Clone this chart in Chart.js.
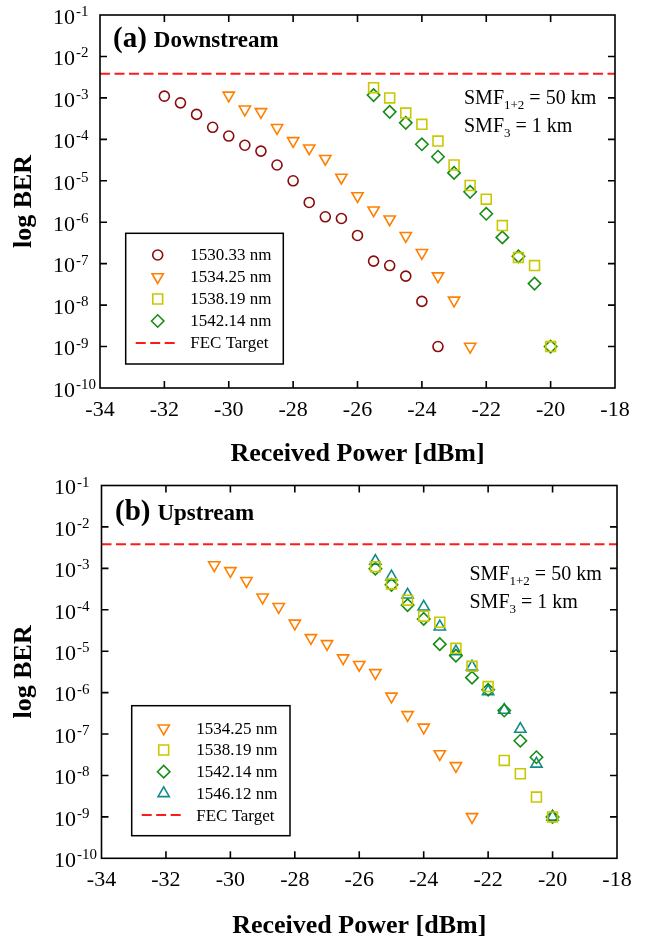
<!DOCTYPE html>
<html>
<head>
<meta charset="utf-8">
<script src="https://cdn.jsdelivr.net/npm/chart.js@4.4.1/dist/chart.umd.min.js"></script>
<style>
  body { margin: 0; background: #fff; }
  .panel { position: relative; width: 648px; }
  canvas { display: block; }
</style>
</head>
<body>
<div class="panel" style="height:470px"><canvas id="downChart"></canvas></div>
<div class="panel" style="height:474px"><canvas id="upChart"></canvas></div>
<script>
// ---- data: received power (dBm) vs BER ----
const FEC_LIMIT = 3.8e-3;
const xTicks = [-34, -32, -30, -28, -26, -24, -22, -20, -18];
const yTickExps = [-1, -2, -3, -4, -5, -6, -7, -8, -9, -10];

// downstream
const down1530x = [-32, -31.5, -31, -30.5, -30, -29.5, -29, -28.5, -28, -27.5, -27, -26.5, -26, -25.5, -25, -24.5, -24, -23.5];
const down1530y = [1.1e-3, 7.6e-4, 4.0e-4, 1.95e-4, 1.2e-4, 7.2e-5, 5.2e-5, 2.4e-5, 1.0e-5, 3.0e-6, 1.35e-6, 1.23e-6, 4.8e-7, 1.15e-7, 9.0e-8, 5.0e-8, 1.23e-8, 1.0e-9];
const down1534x = [-30, -29.5, -29, -28.5, -28, -27.5, -27, -26.5, -26, -25.5, -25, -24.5, -24, -23.5, -23, -22.5];
const down1534y = [1.15e-3, 5.3e-4, 4.6e-4, 1.9e-4, 9.2e-5, 6.1e-5, 3.4e-5, 1.2e-5, 4.3e-6, 1.95e-6, 1.18e-6, 4.7e-7, 1.83e-7, 5.0e-8, 1.3e-8, 1.0e-9];
const down1538x = [-25.5, -25, -24.5, -24, -23.5, -23, -22.5, -22, -21.5, -21, -20.5, -20];
const down1538y = [1.76e-3, 1.0e-3, 4.3e-4, 2.3e-4, 9.1e-5, 2.4e-5, 7.7e-6, 3.6e-6, 8.3e-7, 1.4e-7, 9.0e-8, 1.0e-9];
const down1542x = [-25.5, -25, -24.5, -24, -23.5, -23, -22.5, -22, -21.5, -21, -20.5, -20];
const down1542y = [1.17e-3, 4.6e-4, 2.5e-4, 7.6e-5, 3.8e-5, 1.55e-5, 5.4e-6, 1.6e-6, 4.3e-7, 1.5e-7, 3.3e-8, 1.0e-9];

// upstream
const up1534x = [-30.5, -30, -29.5, -29, -28.5, -28, -27.5, -27, -26.5, -26, -25.5, -25, -24.5, -24, -23.5, -23, -22.5];
const up1534y = [1.2e-3, 8.7e-4, 5.0e-4, 2.0e-4, 1.18e-4, 4.7e-5, 2.1e-5, 1.5e-5, 6.8e-6, 4.7e-6, 3.0e-6, 8.1e-7, 2.9e-7, 1.45e-7, 3.3e-8, 1.7e-8, 1.0e-9];
const up1538x = [-25.5, -25, -24.5, -24, -23.5, -23, -22.5, -22, -21.5, -21, -20.5, -20];
const up1538y = [1.1e-3, 4.2e-4, 1.7e-4, 7.0e-5, 5.0e-5, 1.17e-5, 4.3e-6, 1.4e-6, 2.3e-8, 1.1e-8, 3.0e-9, 1.0e-9];
const up1542x = [-25.5, -25, -24.5, -24, -23.5, -23, -22.5, -22, -21.5, -21, -20.5, -20];
const up1542y = [9.8e-4, 4.0e-4, 1.3e-4, 6.0e-5, 1.48e-5, 7.8e-6, 2.3e-6, 1.17e-6, 3.7e-7, 6.9e-8, 2.75e-8, 1.0e-9];
const up1546x = [-25.5, -25, -24.5, -24, -23.5, -23, -22.5, -22, -21.5, -21, -20.5, -20];
const up1546y = [1.5e-3, 6.3e-4, 2.3e-4, 1.18e-4, 3.9e-5, 9.8e-6, 4.2e-6, 1.07e-6, 3.8e-7, 1.32e-7, 1.9e-8, 1.0e-9];

const serif = '"Liberation Serif", "Times New Roman", serif';

const styles = {
  '1530.33 nm': { color: '#8b0a0a', pointStyle: 'circle', radius: 5, rotation: 0 },
  '1534.25 nm': { color: '#ff8000', pointStyle: 'triangle', radius: 6.5, rotation: 180 },
  '1538.19 nm': { color: '#c8c800', pointStyle: 'rect', radius: 7, rotation: 0 },
  '1542.14 nm': { color: '#168c16', pointStyle: 'rectRot', radius: 6.2, rotation: 0 },
  '1546.12 nm': { color: '#138b8b', pointStyle: 'triangle', radius: 6.5, rotation: 0 }
};

function zip(xs, ys) {
  return xs.map((x, i) => ({ x: x, y: ys[i] }));
}

function seriesDataset(label, xs, ys) {
  const s = styles[label];
  return {
    type: 'scatter',
    label: label,
    data: zip(xs, ys),
    showLine: false,
    pointStyle: s.pointStyle,
    pointRotation: s.rotation,
    pointRadius: s.radius,
    pointHoverRadius: s.radius,
    pointBorderWidth: 1.6,
    pointBorderColor: s.color,
    pointBackgroundColor: 'rgba(0,0,0,0)'
  };
}

function fecDataset() {
  return {
    type: 'line',
    label: 'FEC Target',
    data: [{ x: xTicks[0], y: FEC_LIMIT }, { x: xTicks[xTicks.length - 1], y: FEC_LIMIT }],
    borderColor: '#ff1a1a',
    borderWidth: 2,
    borderDash: [10, 4.5],
    pointRadius: 0,
    fill: false
  };
}

// frame, inward ticks, 10^n labels, panel tag, fibre note and boxed legend
const decorPlugin = {
  id: 'decor',
  afterDraw(chart, args, o) {
    const ctx = chart.ctx;
    const area = chart.chartArea;
    const xs = chart.scales.x;
    const ys = chart.scales.y;
    ctx.save();

    // axis box
    ctx.strokeStyle = '#000';
    ctx.lineWidth = 1.6;
    ctx.strokeRect(area.left, area.top, area.right - area.left, area.bottom - area.top);

    // inward tick marks on all four sides
    const tl = 7;
    ctx.beginPath();
    xTicks.slice(1, -1).forEach(v => {
      const px = xs.getPixelForValue(v);
      ctx.moveTo(px, area.bottom); ctx.lineTo(px, area.bottom - tl);
      ctx.moveTo(px, area.top); ctx.lineTo(px, area.top + tl);
    });
    yTickExps.slice(1, -1).forEach(e => {
      const py = ys.getPixelForValue(Math.pow(10, e));
      ctx.moveTo(area.left, py); ctx.lineTo(area.left + tl, py);
      ctx.moveTo(area.right, py); ctx.lineTo(area.right - tl, py);
    });
    ctx.stroke();

    // y labels with superscript exponent
    ctx.fillStyle = '#000';
    yTickExps.forEach(e => {
      const py = ys.getPixelForValue(Math.pow(10, e));
      ctx.font = '22px ' + serif;
      ctx.textAlign = 'left';
      ctx.textBaseline = 'middle';
      ctx.fillText('10', o.yLabelX, py + 3);
      const w = ctx.measureText('10').width;
      ctx.font = '15px ' + serif;
      ctx.textBaseline = 'alphabetic';
      ctx.fillText(String(e), o.yLabelX + w + 1, py + 1);
    });

    // panel tag
    const tx = area.left + o.tagDx;
    const ty = area.top + o.tagDy;
    ctx.textBaseline = 'alphabetic';
    ctx.font = 'bold 29px ' + serif;
    ctx.fillText(o.tag, tx, ty);
    const tw = ctx.measureText(o.tag).width;
    ctx.font = 'bold 23px ' + serif;
    ctx.fillText(o.title, tx + tw + 7, ty);

    // fibre lengths
    const nx = area.left + o.noteDx;
    const drawSub = (main, sub, tail, y) => {
      ctx.font = '20px ' + serif;
      ctx.fillText(main, nx, y);
      let cx = nx + ctx.measureText(main).width;
      ctx.font = '13px ' + serif;
      ctx.fillText(sub, cx, y + 5);
      cx += ctx.measureText(sub).width;
      ctx.font = '20px ' + serif;
      ctx.fillText(tail, cx, y);
    };
    drawSub('SMF', '1+2', ' = 50 km', area.top + o.noteDy);
    drawSub('SMF', '3', ' = 1 km', area.top + o.noteDy + 28.5);

    // legend box
    const bx = area.left + o.boxDx;
    const by = area.top + o.boxDy;
    ctx.fillStyle = '#fff';
    ctx.fillRect(bx, by, o.boxW, o.boxH);
    ctx.strokeStyle = '#000';
    ctx.lineWidth = 1.5;
    ctx.strokeRect(bx, by, o.boxW, o.boxH);

    ctx.font = '17px ' + serif;
    ctx.textBaseline = 'middle';
    chart.data.datasets.forEach((ds, i) => {
      const ry = by + o.rowTop + i * o.rowGap;
      if (ds.type === 'line') {
        ctx.save();
        ctx.strokeStyle = ds.borderColor;
        ctx.lineWidth = ds.borderWidth;
        ctx.setLineDash(ds.borderDash);
        ctx.beginPath();
        ctx.moveTo(bx + 10, ry);
        ctx.lineTo(bx + 50, ry);
        ctx.stroke();
        ctx.restore();
      } else {
        ctx.save();
        ctx.strokeStyle = ds.pointBorderColor;
        ctx.fillStyle = 'rgba(0,0,0,0)';
        ctx.lineWidth = ds.pointBorderWidth;
        Chart.helpers.drawPoint(ctx, {
          pointStyle: ds.pointStyle,
          rotation: ds.pointRotation,
          radius: ds.pointRadius,
          borderWidth: ds.pointBorderWidth
        }, bx + 32, ry);
        ctx.restore();
      }
      ctx.fillStyle = '#000';
      ctx.fillText(ds.label, bx + 64.5, ry + 1);
    });

    ctx.restore();
  }
};

function makeChart(id, datasets, geom, decor) {
  new Chart(document.getElementById(id), {
    data: { datasets: datasets },
    options: {
      responsive: true,
      maintainAspectRatio: false,
      animation: false,
      layout: { padding: { top: geom.top, right: geom.right, left: 0, bottom: 0 } },
      scales: {
        x: {
          type: 'linear',
          min: xTicks[0],
          max: xTicks[xTicks.length - 1],
          afterBuildTicks: s => { s.ticks = xTicks.map(v => ({ value: v })); },
          afterFit: s => { s.height = geom.xAxisH; },
          grid: { display: false, drawTicks: false },
          border: { display: false },
          ticks: {
            padding: 9,
            color: '#000',
            font: { family: serif, size: 22 },
            callback: v => String(v)
          },
          title: {
            display: true,
            text: 'Received Power [dBm]',
            color: '#000',
            font: { family: serif, size: 26, weight: 'bold' },
            padding: { top: 0, bottom: geom.xTitlePad }
          }
        },
        y: {
          type: 'logarithmic',
          min: Math.pow(10, yTickExps[yTickExps.length - 1]),
          max: Math.pow(10, yTickExps[0]),
          afterFit: s => { s.width = geom.left; },
          grid: { display: false, drawTicks: false },
          border: { display: false },
          ticks: { display: false },
          title: {
            display: true,
            text: 'log BER',
            color: '#000',
            font: { family: serif, size: 26, weight: 'bold' },
            padding: { top: 9, bottom: 0 }
          }
        }
      },
      plugins: {
        legend: { display: false },
        tooltip: { enabled: false },
        decor: decor
      }
    },
    plugins: [decorPlugin]
  });
}

makeChart('downChart', [
  seriesDataset('1530.33 nm', down1530x, down1530y),
  seriesDataset('1534.25 nm', down1534x, down1534y),
  seriesDataset('1538.19 nm', down1538x, down1538y),
  seriesDataset('1542.14 nm', down1542x, down1542y),
  fecDataset()
], { top: 15, right: 33, left: 100, xAxisH: 82, xTitlePad: 0 }, {
  yLabelX: 53, tag: '(a)', title: 'Downstream', tagDx: 13, tagDy: 32,
  noteDx: 364, noteDy: 88.5,
  boxDx: 25.7, boxDy: 218.3, boxW: 157.6, boxH: 130.7, rowTop: 21.7, rowGap: 22
});

makeChart('upChart', [
  seriesDataset('1534.25 nm', up1534x, up1534y),
  seriesDataset('1538.19 nm', up1538x, up1538y),
  seriesDataset('1542.14 nm', up1542x, up1542y),
  seriesDataset('1546.12 nm', up1546x, up1546y),
  fecDataset()
], { top: 15.5, right: 31, left: 101.5, xAxisH: 85.7, xTitlePad: 2.5 }, {
  yLabelX: 54, tag: '(b)', title: 'Upstream', tagDx: 13.5, tagDy: 34.5,
  noteDx: 368, noteDy: 94,
  boxDx: 30.2, boxDy: 220.2, boxW: 158.3, boxH: 130, rowTop: 22.6, rowGap: 21.7
});
</script>
</body>
</html>
